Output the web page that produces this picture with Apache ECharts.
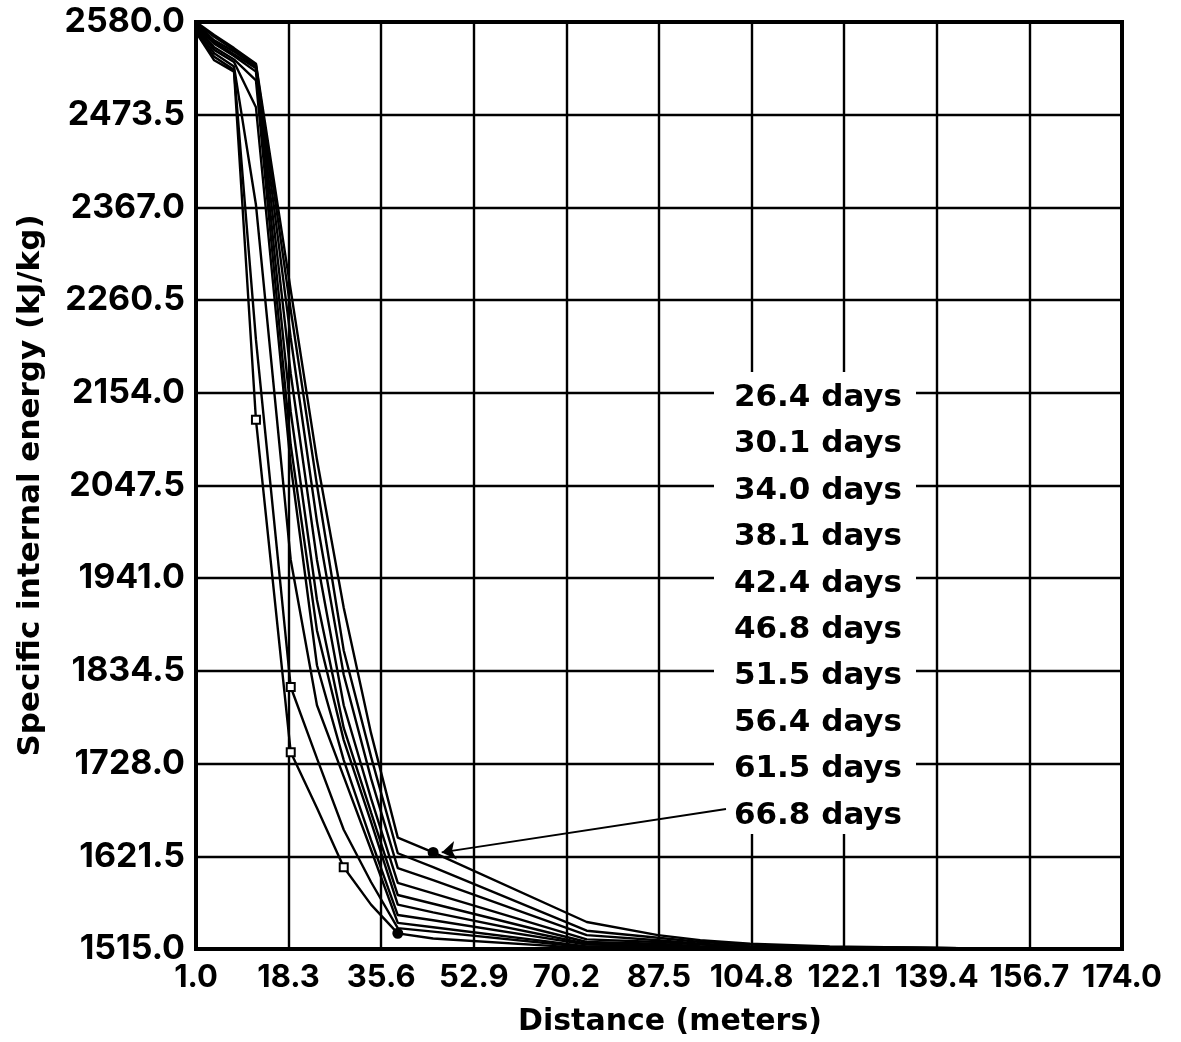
<!DOCTYPE html>
<html>
<head>
<meta charset="utf-8">
<title>Specific internal energy vs distance</title>
<script src="https://cdn.jsdelivr.net/npm/echarts@6/dist/echarts.min.js"></script>
<style>
  html, body { margin: 0; padding: 0; background: #ffffff; }
  #chart { width: 1181px; height: 1042px; }
</style>
</head>
<body>
<div id="chart"></div>
<script>
// Node distances from the well (m)
const distance = [1.0, 4.4, 8.1, 12.2, 18.7, 23.6, 28.6, 33.7, 38.7, 45.3, 74.0, 87.3, 95.2, 104.5, 119.4, 143.7, 174.0];

// Specific internal energy (kJ/kg) at each node, one array per simulated time
const energy26_4 = [2568, 2536, 2523, 2123, 1741, 1677, 1609, 1566, 1533, 1527, 1516, 1515, 1515, 1515, 1515, 1515, 1515];
const energy30_1 = [2570, 2540, 2525, 2215, 1816, 1734, 1652, 1592, 1539, 1535, 1517, 1516, 1516, 1515, 1515, 1515, 1515];
const energy34_0 = [2572, 2544, 2529, 2370, 1962, 1795, 1713, 1629, 1545, 1540, 1518, 1518, 1517, 1516, 1516, 1515, 1515];
const energy38_1 = [2574, 2548, 2534, 2482, 2071, 1841, 1732, 1640, 1554, 1548, 1520, 1519, 1517, 1516, 1516, 1515, 1515];
const energy42_4 = [2575, 2551, 2537, 2513, 2094, 1881, 1755, 1661, 1566, 1557, 1521, 1520, 1518, 1517, 1516, 1516, 1515];
const energy46_8 = [2576, 2555, 2541, 2523, 2132, 1916, 1769, 1672, 1577, 1567, 1523, 1521, 1518, 1517, 1516, 1516, 1515];
const energy51_5 = [2577, 2557, 2543, 2527, 2176, 1962, 1795, 1688, 1591, 1579, 1526, 1523, 1520, 1518, 1517, 1516, 1515];
const energy56_4 = [2578, 2559, 2546, 2529, 2217, 2006, 1830, 1711, 1608, 1594, 1531, 1525, 1521, 1518, 1517, 1516, 1515];
const energy61_5 = [2579, 2563, 2548, 2531, 2249, 2048, 1858, 1736, 1625, 1609, 1536, 1528, 1523, 1520, 1517, 1516, 1515];
const energy66_8 = [2580, 2565, 2550, 2532, 2272, 2077, 1907, 1763, 1643, 1626, 1546, 1531, 1525, 1521, 1518, 1516, 1515];

const runLabels = ['26.4 days', '30.1 days', '34.0 days', '38.1 days', '42.4 days',
                   '46.8 days', '51.5 days', '56.4 days', '61.5 days', '66.8 days'];
const runEnergy = [energy26_4, energy30_1, energy34_0, energy38_1, energy42_4,
                   energy46_8, energy51_5, energy56_4, energy61_5, energy66_8];

// Axis tick labels
const distanceTicks = [1.0, 18.3, 35.6, 52.9, 70.2, 87.5, 104.8, 122.1, 139.4, 156.7, 174.0];
const energyTicks = [1515.0, 1621.5, 1728.0, 1834.5, 1941.0, 2047.5, 2154.0, 2260.5, 2367.0, 2473.5, 2580.0];

// Both axes start at their first tick label, so values are plotted relative to it
const X0 = distanceTicks[0];
const Y0 = energyTicks[0];
const xStep = Math.round((distanceTicks[1] - distanceTicks[0]) * 10) / 10;
const yStep = Math.round((energyTicks[1] - energyTicks[0]) * 10) / 10;
const xSpan = Math.round((distanceTicks[distanceTicks.length - 1] - X0) * 10) / 10;
const ySpan = Math.round((energyTicks[energyTicks.length - 1] - Y0) * 10) / 10;

function tickText(ticks, step) {
  return function (v) {
    const i = Math.round(v / step);
    return (i >= 0 && i < ticks.length) ? ticks[i].toFixed(1) : '';
  };
}

// Symbols drawn on a few nodes: [run index, node index, symbol]
const nodeMarkers = [
  [0, 3, 'emptyRect'], [0, 4, 'emptyRect'], [0, 6, 'emptyRect'], [0, 8, 'circle'],
  [1, 4, 'emptyRect'], [9, 9, 'circle']
];

const FONT = '"DejaVu Sans", "Liberation Sans", sans-serif';
const NUM_FONT = 'Inter, "DejaVu Sans", sans-serif';

const series = runEnergy.map(function (vals, r) {
  return {
    name: runLabels[r],
    type: 'line',
    symbol: 'none',
    showSymbol: true,
    silent: true,
    z: 3,
    emphasis: { disabled: true },
    lineStyle: { color: '#000', width: 2.4 },
    itemStyle: { color: '#000', borderColor: '#000', borderWidth: 2 },
    data: vals.map(function (e, i) {
      const item = { value: [distance[i] - X0, e - Y0] };
      const m = nodeMarkers.find(function (k) { return k[0] === r && k[1] === i; });
      if (m) {
        item.symbol = m[2];
        item.symbolSize = m[2] === 'circle' ? 9 : 8;
      }
      return item;
    })
  };
});

// Arrow from the last time label to its curve
const last = runEnergy.length - 1;
series[last].markLine = {
  silent: true,
  symbol: ['none', 'arrow'],
  symbolSize: 14,
  label: { show: false },
  emphasis: { disabled: true },
  lineStyle: { color: '#000', width: 2, type: 'solid' },
  data: [[
    { x: 726, y: 809 },
    { coord: [distance[9] - X0 + 1.6, runEnergy[last][9] - Y0] }
  ]]
};

const chart = echarts.init(document.getElementById('chart'), null, { renderer: 'canvas' });
chart.setOption({
  animation: false,
  backgroundColor: '#ffffff',
  textStyle: { fontFamily: FONT },
  grid: {
    left: 196, right: 59, top: 22, bottom: 93,
    show: true, borderColor: '#000', borderWidth: 4, backgroundColor: 'transparent'
  },
  xAxis: {
    type: 'value',
    min: 0, max: xSpan, interval: xStep,
    name: 'Distance (meters)',
    nameLocation: 'middle',
    nameGap: 58,
    nameTextStyle: { fontFamily: FONT, fontWeight: 'bold', fontSize: 30, color: '#000',
                     padding: [0, 0, 0, 22] },
    axisLine: { show: false },
    axisTick: { show: false },
    axisLabel: { formatter: tickText(distanceTicks, xStep), margin: 13,
                 fontFamily: NUM_FONT, fontWeight: 'bold', fontSize: 31, color: '#000' },
    splitLine: { show: true, lineStyle: { color: '#000', width: 2.4 } }
  },
  yAxis: {
    type: 'value',
    min: 0, max: ySpan, interval: yStep,
    name: 'Specific internal energy (kJ/kg)',
    nameLocation: 'middle',
    nameGap: 150,
    nameTextStyle: { fontFamily: FONT, fontWeight: 'bold', fontSize: 31, color: '#000' },
    axisLine: { show: false },
    axisTick: { show: false },
    axisLabel: { formatter: tickText(energyTicks, yStep), margin: 11,
                 fontFamily: NUM_FONT, fontWeight: 'bold', fontSize: 34, color: '#000' },
    splitLine: { show: true, lineStyle: { color: '#000', width: 2.4 } }
  },
  graphic: [
    { type: 'rect', z: 1, left: 714, top: 372, shape: { width: 202, height: 462 },
      style: { fill: '#ffffff' } }
  ].concat(runLabels.map(function (t, i) {
    return {
      type: 'text', z: 10, x: 902, y: 398 + i * 46.4,
      style: {
        text: t, fill: '#000', font: 'bold 31px ' + FONT,
        textAlign: 'right', textVerticalAlign: 'middle',
        align: 'right', verticalAlign: 'middle'
      }
    };
  })),
  series: series
});
</script>
</body>
</html>
